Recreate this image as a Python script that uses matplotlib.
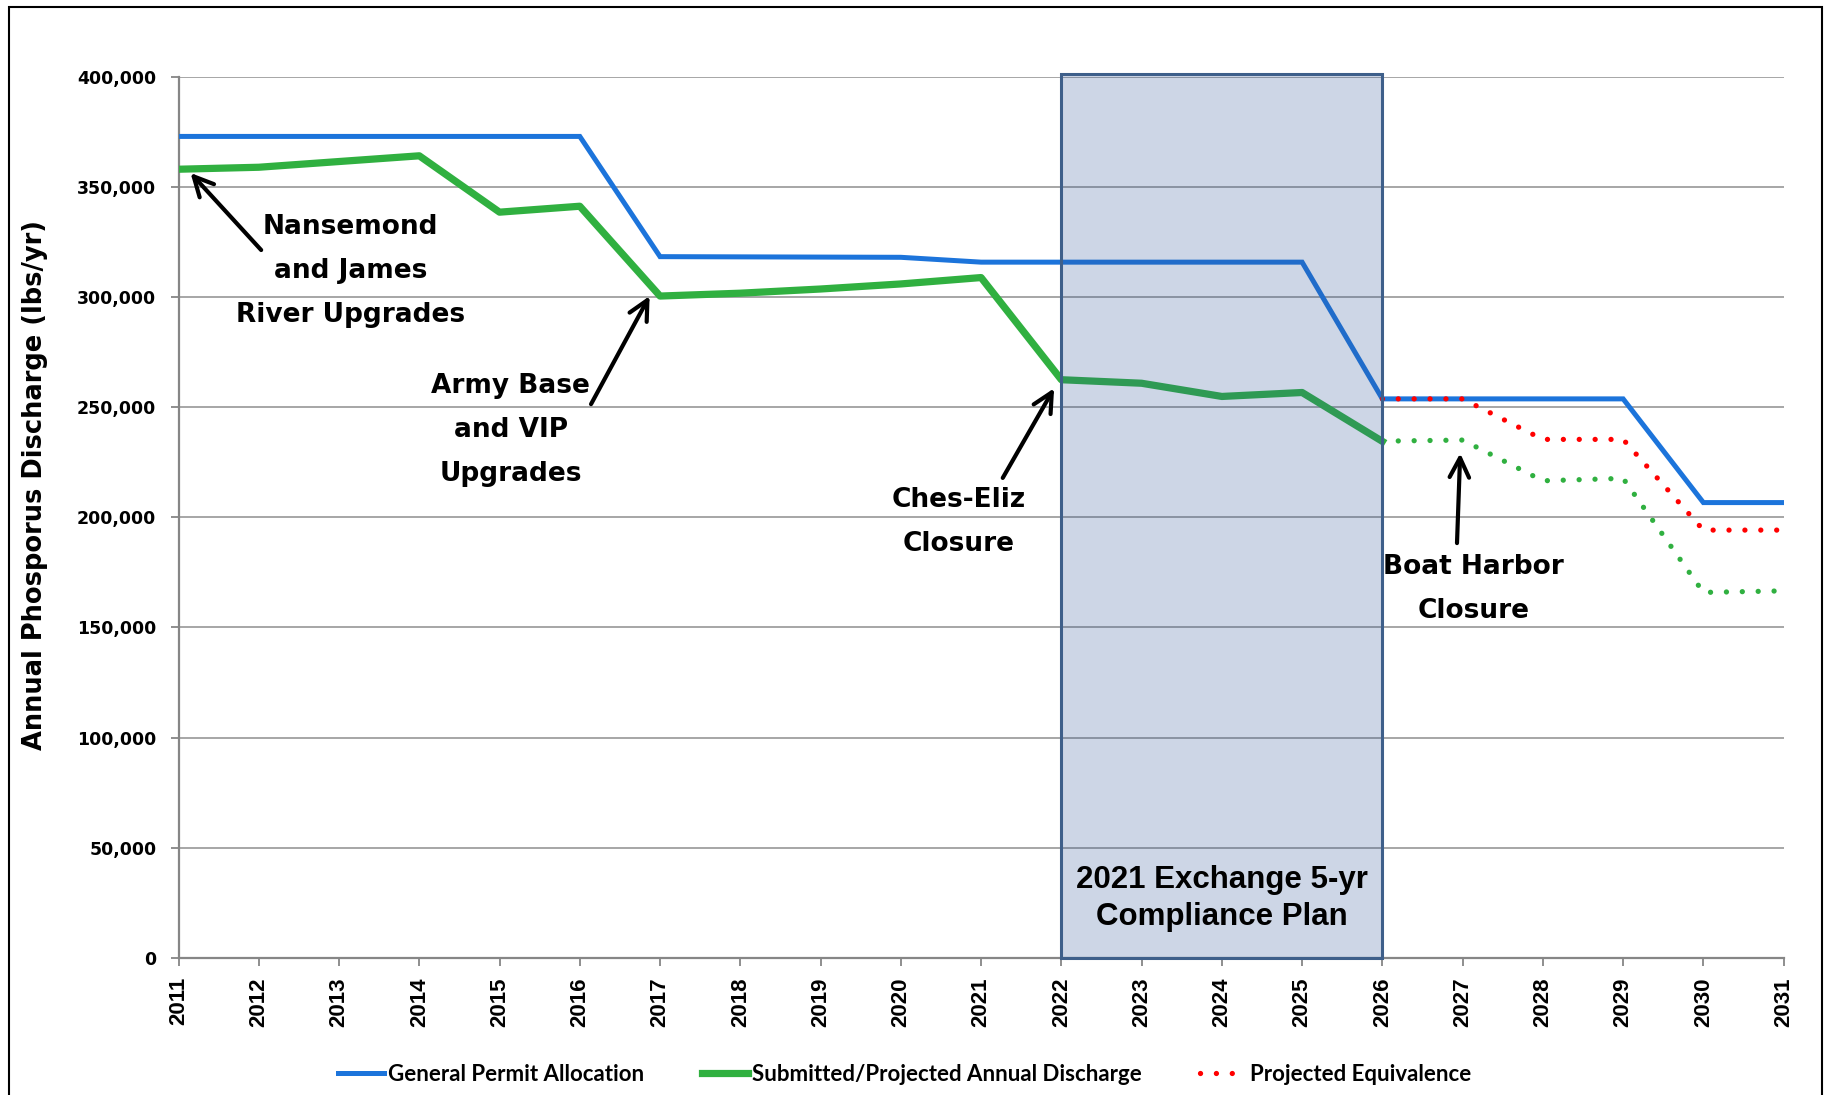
#!/usr/bin/env python3
"""Annual phosphorus discharge vs. general permit allocation, 2011-2031."""
import matplotlib
matplotlib.use("Agg")
import matplotlib.pyplot as plt
from matplotlib.patches import Rectangle
from matplotlib.ticker import FuncFormatter

OUT = "out.png"

# ---- data ----
YEARS = list(range(2011, 2032))
PERMIT = [373000, 373000, 373000, 373000, 373000, 373000,
          318400, 318300, 318200, 318100, 315900, 315900,
          315900, 315900, 315900, 253800, 253800, 253800,
          253800, 206700, 206700]
DISCHARGE_YEARS = list(range(2011, 2027))
DISCHARGE = [358100, 359000, 361600, 364200, 338600, 341300,
             300500, 301800, 303700, 306000, 308900, 262500,
             260900, 254900, 256700, 234500]
PROJ_YEARS = list(range(2026, 2032))
PROJ_DISCHARGE = [234600, 235100, 216600, 217700, 165900, 166600]
PROJ_EQUIV = [253800, 253800, 235400, 235400, 194200, 194200]

PLAN_START, PLAN_END, PLAN_TOP = 2022, 2026, 401500

# annotation text, arrow tail, arrow tip, text centre
NOTES = [
    ("Nansemond\nand James\nRiver Upgrades", (2012.03, 321400), (2011.15, 356400), (2013.14, 312000)),
    ("Army Base\nand VIP\nUpgrades",          (2016.14, 251400), (2016.87, 300500), (2015.14, 239600)),
    ("Ches-Eliz\nClosure",                    (2021.27, 217900), (2021.91, 258600), (2020.72, 197800)),
    ("Boat Harbor\nClosure",                  (2026.93, 188300), (2026.97, 229100), (2027.14, 167600)),
]

C_BLUE = "#1C74DB"
C_GREEN = "#30B040"
C_RED = "#FF0000"
C_GRID = "#A6A6A6"

BOLD = dict(family="DejaVu Sans", weight="bold")


def main():
    fig = plt.figure(figsize=(18.29, 10.95), dpi=100)
    ax = fig.add_axes([0.0976, 0.1254, 0.8776, 0.8043])

    l_permit, = ax.plot(YEARS, PERMIT, color=C_BLUE, lw=3.6, zorder=3,
                        solid_joinstyle="miter")
    l_dis, = ax.plot(DISCHARGE_YEARS, DISCHARGE, color=C_GREEN, lw=5.2, zorder=3)
    dots = (0, (0.01, 3.0))
    ax.plot(PROJ_YEARS, PROJ_DISCHARGE, color=C_GREEN, lw=3.8, ls=dots,
            dash_capstyle="round", zorder=3, clip_on=False)
    l_eq, = ax.plot(PROJ_YEARS, PROJ_EQUIV, color=C_RED, lw=3.8, ls=dots,
                    dash_capstyle="round", zorder=4, clip_on=False)

    # 5-yr compliance plan window, drawn over the lines
    ax.add_patch(Rectangle((PLAN_START, 0), PLAN_END - PLAN_START, PLAN_TOP,
                           facecolor="#2F5597", alpha=0.24, edgecolor="none",
                           zorder=5, clip_on=False))
    ax.add_patch(Rectangle((PLAN_START, 0), PLAN_END - PLAN_START, PLAN_TOP,
                           fill=False, edgecolor="#3E5F8A", lw=2.2,
                           zorder=6, clip_on=False))
    ax.text((PLAN_START + PLAN_END) / 2, 26900, "2021 Exchange 5-yr\nCompliance Plan",
            ha="center", va="center", fontsize=22.5, linespacing=1.3,
            family="Liberation Sans", weight="bold", zorder=7)

    for label, tail, tip, centre in NOTES:
        ax.annotate("", xy=tip, xytext=tail, zorder=8,
                    arrowprops=dict(arrowstyle="->,head_length=0.7,head_width=0.35",
                                    lw=3, color="black", shrinkA=0, shrinkB=0,
                                    mutation_scale=20))
        ax.text(centre[0], centre[1], label, ha="center", va="center",
                fontsize=19, linespacing=1.9, zorder=8, **BOLD)

    # axes
    ax.set_xlim(2011, 2031)
    ax.set_ylim(0, 400000)
    ax.set_xticks(YEARS)
    ax.set_xticklabels([str(y) for y in YEARS], rotation=90,
                       family="Liberation Sans", weight="bold", fontsize=16)
    ax.set_yticks(range(0, 400001, 50000))
    ax.yaxis.set_major_formatter(FuncFormatter(lambda v, _: f"{int(v):,}"))
    for t in ax.get_yticklabels():
        t.set_fontfamily("DejaVu Sans")
        t.set_fontweight("bold")
        t.set_fontsize(12.5)
    ax.tick_params(axis="y", length=6, width=1.3, color="#868686", pad=10)
    ax.tick_params(axis="x", length=6, width=1.3, color="#868686", pad=8)
    ax.grid(True, axis="y", color=C_GRID, lw=1.4)
    ax.set_axisbelow(True)
    for s in ("top", "right"):
        ax.spines[s].set_visible(False)
    for s in ("left", "bottom"):
        ax.spines[s].set_color("#868686")
        ax.spines[s].set_linewidth(1.6)

    fig.text(35 / 1829, 1 - 485 / 1095, "Annual Phosporus Discharge (lbs/yr)",
             rotation=90, ha="center", va="center", fontsize=18.5, **BOLD)

    fig.legend([l_permit, l_dis, l_eq],
               ["General Permit Allocation", "Submitted/Projected Annual Discharge",
                "Projected Equivalence"],
               loc="center", bbox_to_anchor=(0.4945, 0.0185), ncol=3, frameon=False,
               handlelength=2.05, handletextpad=0.2, columnspacing=2.6,
               prop=dict(family="Lato", weight="bold", size=16))

    # outer frame of the picture
    fig.add_artist(Rectangle((9 / 1829, -0.05), (1822 - 9) / 1829, 1.05 - 7 / 1095,
                             transform=fig.transFigure, fill=False,
                             edgecolor="black", lw=1.5))

    fig.savefig(OUT, dpi=100, facecolor="white")


if __name__ == "__main__":
    main()
